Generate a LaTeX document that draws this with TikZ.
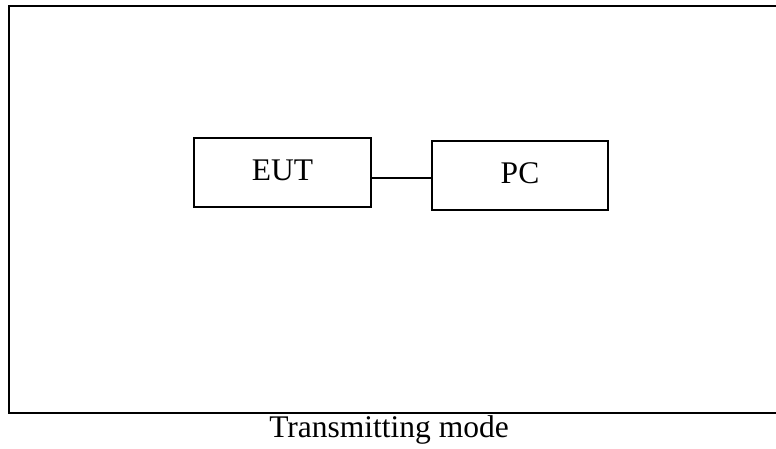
\documentclass[tikz,border=0pt]{standalone}
\usepackage{fontspec}
\setmainfont{Liberation Serif}
\begin{document}
\begin{tikzpicture}[x=1pt,y=1pt,
  boxst/.style={draw, line width=1.4pt, minimum width=177pt, minimum height=69pt, inner sep=0pt, font=\fontsize{31.5}{36}\selectfont},
  linkst/.style={line width=1.4pt}]
\useasboundingbox (0,0) rectangle (776,448);
\begin{scope}
\clip (0,0) rectangle (776,448);
\draw[line width=2pt] (785,442) -- (9,442) -- (9,35) -- (785,35);
\end{scope}
\node[boxst] (eut) at (282.5,275.5) {\raisebox{4pt}{EUT}};
\node[boxst, minimum width=176pt] (pc) at (520,272.5) {\raisebox{5pt}{PC}};
\draw[linkst] (eut.east |- 0,270) -- (pc.west |- 0,270);
\node[font=\fontsize{31.5}{36}\selectfont, anchor=base] (cap) at (389,10.5) {Transmitting mode};
\end{tikzpicture}
\end{document}
